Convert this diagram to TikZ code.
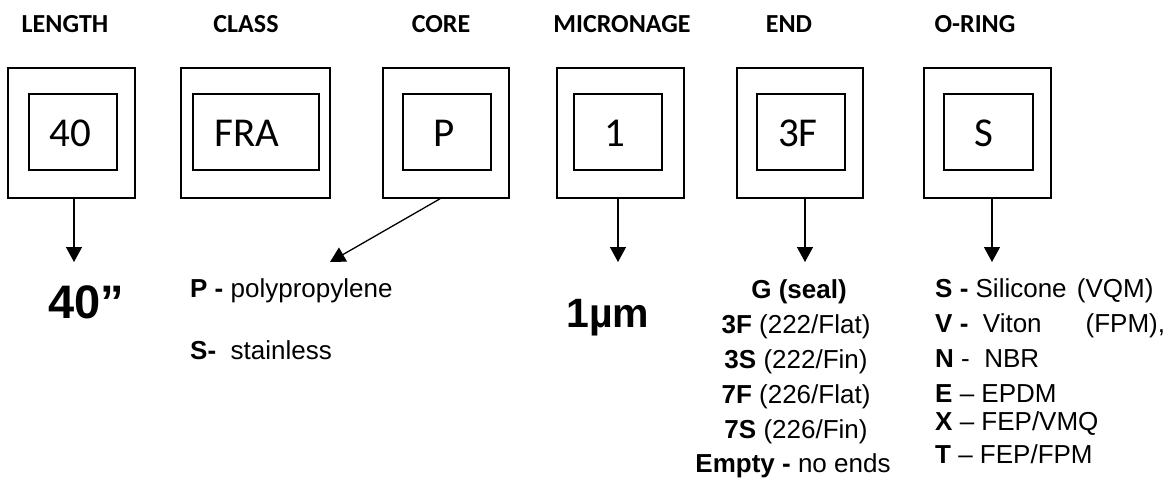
\documentclass[tikz,border=0pt]{standalone}
\usepackage{fontspec}
\setmainfont{Liberation Sans}
\newfontfamily\calibri{Carlito}
\usetikzlibrary{arrows.meta}
\begin{document}
\begin{tikzpicture}[x=1pt,y=-1pt,
  outerbox/.style={draw, line width=1.6pt, minimum height=130pt, inner sep=0pt},
  innerbox/.style={draw, line width=1.1pt, minimum height=76pt, inner sep=0pt},
  title/.style={anchor=base, font=\calibri\bfseries\fontsize{26}{30}\selectfont},
  code/.style={anchor=base, font=\calibri\fontsize{41}{48}\selectfont},
  big/.style={anchor=base, font=\bfseries\fontsize{#1}{#1}\selectfont},
  item/.style={font=\fontsize{26}{30}\selectfont, inner sep=0pt},
  arr/.style={-{Triangle[width=16pt,length=15pt]}, line width=1.3pt}
]
\useasboundingbox (0,0) rectangle (1171,480);

% column headings
\node[title] (h1) at (65,32)  {LENGTH};
\node[title] (h2) at (246,32) {CLASS};
\node[title] (h3) at (441,32) {CORE};
\node[title] (h4) at (622,32) {MICRONAGE};
\node[title] (h5) at (789,32) {END};
\node[title] (h6) at (975,32) {O-RING};

% outer frames
\node[outerbox, minimum width=127pt] (b1) at (71.5,133) {};
\node[outerbox, minimum width=149pt] (b2) at (255.5,133) {};
\node[outerbox, minimum width=126pt] (b3) at (446,133) {};
\node[outerbox, minimum width=127pt] (b4) at (620.5,133) {};
\node[outerbox, minimum width=126pt] (b5) at (800,133) {};
\node[outerbox, minimum width=127pt] (b6) at (987.5,133) {};

% inner frames
\node[innerbox, minimum width=88pt]  (i1) at (73,132) {};
\node[innerbox, minimum width=126pt] (i2) at (256,132) {};
\node[innerbox, minimum width=88pt]  (i3) at (447,132) {};
\node[innerbox, minimum width=88pt]  (i4) at (618,132) {};
\node[innerbox, minimum width=88pt]  (i5) at (801,132) {};
\node[innerbox, minimum width=89pt]  (i6) at (988.5,132) {};

% code values
\node[code] (c1) at (70,146)  {40};
\node[code] (c2) at (247,146) {FRA};
\node[code] (c3) at (444,146) {P};
\node[code] (c4) at (615,146) {1};
\node[code] (c5) at (798,146) {3F};
\node[code] (c6) at (984,146) {S};

% arrow ends
\coordinate (t1) at (74,262);
\coordinate (t3) at (330,262);
\coordinate (t4) at (618,262);
\coordinate (t5) at (805,262);
\coordinate (t6) at (992,262);

\draw[arr] (b1.south -| t1) -- (t1);
\draw[arr] (b3.south) ++(-6,0) -- (t3);
\draw[arr] (b4.south -| t4) -- (t4);
\draw[arr] (b5.south -| t5) -- (t5);
\draw[arr] (b6.south -| t6) -- (t6);

% length
\node[big=47] (len) at (86,318) {40”};

% core options
\node[item, anchor=base west] (core1) at (190,297) {\textbf{P -} polypropylene};
\node[item, anchor=base west] (core2) at (190,359) {\textbf{S-}\ \ stainless};

% micronage
\node[big=41] (mic) at (608,327) {1µm};

% end options
\node[item, anchor=base] (end1) at (799,298) {\textbf{G (seal)}};
\node[item, anchor=base] (end2) at (796,333) {\textbf{3F} (222/Flat)};
\node[item, anchor=base] (end3) at (796,368) {\textbf{3S} (222/Fin)};
\node[item, anchor=base] (end4) at (796,403) {\textbf{7F} (226/Flat)};
\node[item, anchor=base] (end5) at (796,438) {\textbf{7S} (226/Fin)};
\node[item, anchor=base] (end6) at (793,472) {\textbf{Empty -} no ends};

% o-ring options
\node[item, anchor=base west] (or1) at (935,297) {\textbf{S -} Silicone\hspace{3pt} (VQM)};
\node[item, anchor=base west] (or2) at (935,332) {\textbf{V -}\ \ Viton\hspace{44pt}(FPM),};
\node[item, anchor=base west] (or3) at (935,367) {\textbf{N} -\ \ NBR};
\node[item, anchor=base west] (or4) at (935,402) {\textbf{E} – EPDM};
\node[item, anchor=base west] (or5) at (935,430) {\textbf{X} – FEP/VMQ};
\node[item, anchor=base west] (or6) at (935,463) {\textbf{T} – FEP/FPM};
\end{tikzpicture}
\end{document}
